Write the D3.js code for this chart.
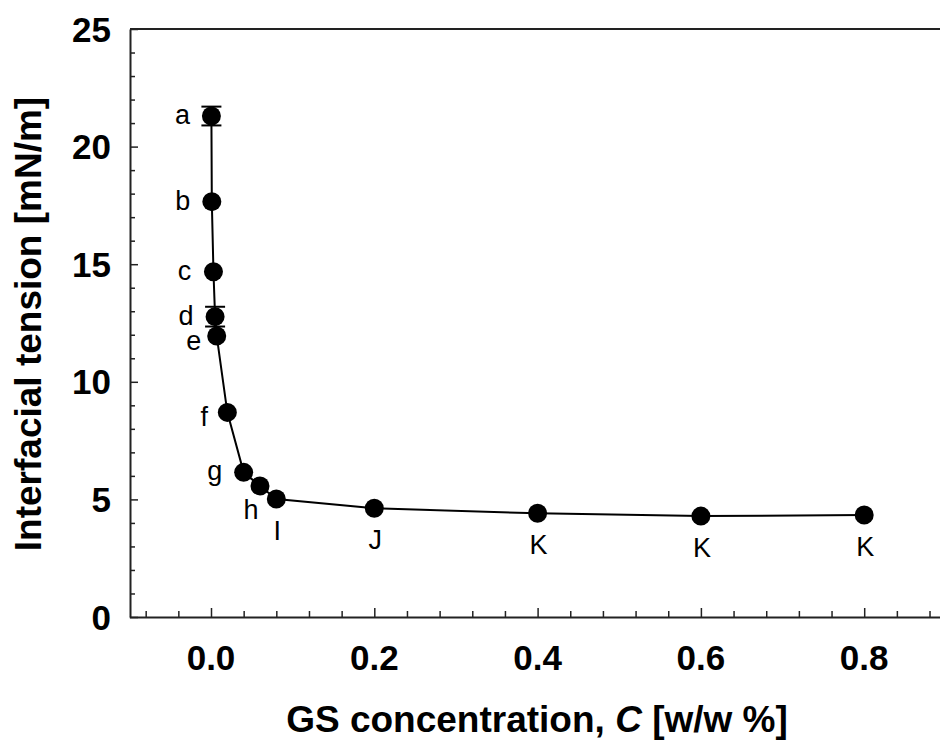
<!DOCTYPE html>
<html>
<head>
<meta charset="utf-8">
<script src="https://cdn.jsdelivr.net/npm/d3@7"></script>
<style>
  html, body { margin: 0; padding: 0; background: #fff; }
  svg { display: block; }
  text { font-family: "Liberation Sans", Arial, sans-serif; }
</style>
</head>
<body>
<svg id="chart" width="940" height="744"></svg>
<script>
// ---- data ----
const pointLabels = ["a", "b", "c", "d", "e", "f", "g", "h", "I", "J", "K", "K", "K"];
const concentration = [0.0005, 0.001, 0.003, 0.005, 0.007, 0.02, 0.04, 0.06, 0.08, 0.2, 0.4, 0.6, 0.8];
const tension = [21.3, 17.66, 14.68, 12.77, 11.95, 8.7, 6.15, 5.57, 5.02, 4.62, 4.41, 4.29, 4.34];
const tensionErr = [0.4, 0, 0, 0.42, 0, 0, 0, 0, 0, 0, 0, 0, 0];
const xTicks = [0.0, 0.2, 0.4, 0.6, 0.8];
const xTickLabels = ["0.0", "0.2", "0.4", "0.6", "0.8"];
const yTicks = [0, 5, 10, 15, 20, 25];
const yTickLabels = ["0", "5", "10", "15", "20", "25"];

// label placement (annotation layout): side per point
const labelPlacement = ["left","left","left","left","leftLow","leftLow","left","belowLeft","below","below","below","below","below"];

const svg = d3.select("#chart");
const x = d3.scaleLinear().domain([-0.1, 0.9]).range([129.35, 945.85]);
const y = d3.scaleLinear().domain([0, 25]).range([617, 29]);

const axisColor = "#222";

// frame: top line
svg.append("line").attr("x1", 130).attr("x2", 940).attr("y1", y(25)).attr("y2", y(25))
  .attr("stroke", axisColor).attr("stroke-width", 2);

// y axis (ticks inside)
const yAxis = d3.axisRight(y).tickValues(d3.range(0, 26, 1)).tickSize(0).tickFormat("");
const gy = svg.append("g").attr("transform", "translate(130,0)").call(yAxis);
gy.select(".domain").attr("stroke", axisColor).attr("stroke-width", 2);
gy.selectAll(".tick line")
  .attr("x2", d => (d % 5 === 0 ? 8 : 5))
  .attr("stroke", axisColor).attr("stroke-width", 1.5);

// x axis (ticks inside)
const xAxis = d3.axisTop(x).tickValues(d3.range(-0.08, 0.9, 0.04).map(v => +v.toFixed(2))).tickSize(0).tickFormat("");
const gx = svg.append("g").attr("transform", "translate(0,617)").call(xAxis);
gx.select(".domain").attr("stroke", axisColor).attr("stroke-width", 2);
gx.selectAll(".tick line")
  .attr("y2", d => (Math.abs(Math.round(d / 0.2) * 0.2 - d) < 1e-6 ? -9 : -6))
  .attr("stroke", axisColor).attr("stroke-width", 1.5);

// tick labels
svg.append("g").selectAll("text").data(yTicks).join("text")
  .attr("x", 111).attr("y", d => y(d) + 12.5)
  .attr("text-anchor", "end").attr("font-size", 35).attr("font-weight", "bold")
  .text((d, i) => yTickLabels[i]);

svg.append("g").selectAll("text").data(xTicks).join("text")
  .attr("x", d => x(d)).attr("y", 670)
  .attr("text-anchor", "middle").attr("font-size", 35).attr("font-weight", "bold")
  .text((d, i) => xTickLabels[i]);

// axis titles
const xt = svg.append("text").attr("x", 537).attr("y", 732)
  .attr("text-anchor", "middle").attr("font-size", 37).attr("font-weight", "bold");
xt.append("tspan").text("GS concentration, ");
xt.append("tspan").attr("font-style", "italic").text("C");
xt.append("tspan").text(" [w/w %]");

svg.append("text").attr("transform", "translate(41,324) rotate(-90)")
  .attr("text-anchor", "middle").attr("font-size", 37).attr("font-weight", "bold")
  .text("Interfacial tension [mN/m]");

// data
const pts = concentration.map((c, i) => ({ c, t: tension[i], e: tensionErr[i], lab: pointLabels[i], place: labelPlacement[i] }));

svg.append("path").datum(pts)
  .attr("d", d3.line().x(d => x(d.c)).y(d => y(d.t)))
  .attr("fill", "none").attr("stroke", "#000").attr("stroke-width", 2);

// error bars
const eb = svg.append("g").attr("stroke", "#000").attr("stroke-width", 2);
pts.filter(d => d.e > 0).forEach(d => {
  const cx = x(d.c);
  eb.append("line").attr("x1", cx).attr("x2", cx).attr("y1", y(d.t - d.e)).attr("y2", y(d.t + d.e));
  [d.t - d.e, d.t + d.e].forEach(v => {
    eb.append("line").attr("x1", cx - 10).attr("x2", cx + 10).attr("y1", y(v)).attr("y2", y(v));
  });
});

svg.append("g").selectAll("circle").data(pts).join("circle")
  .attr("cx", d => x(d.c)).attr("cy", d => y(d.t)).attr("r", 9.5).attr("fill", "#000");

// point labels
const offsets = {
  left: { dx: -29, dy: 8, anchor: "middle" },
  leftLow: { dx: -23, dy: 14, anchor: "middle" },
  belowLeft: { dx: -9, dy: 33, anchor: "middle" },
  below: { dx: 1, dy: 41, anchor: "middle" }
};
svg.append("g").selectAll("text").data(pts).join("text")
  .attr("x", d => x(d.c) + offsets[d.place].dx)
  .attr("y", d => y(d.t) + offsets[d.place].dy)
  .attr("text-anchor", d => offsets[d.place].anchor)
  .attr("font-size", 27).attr("fill", "#000")
  .text(d => d.lab);
</script>
</body>
</html>
